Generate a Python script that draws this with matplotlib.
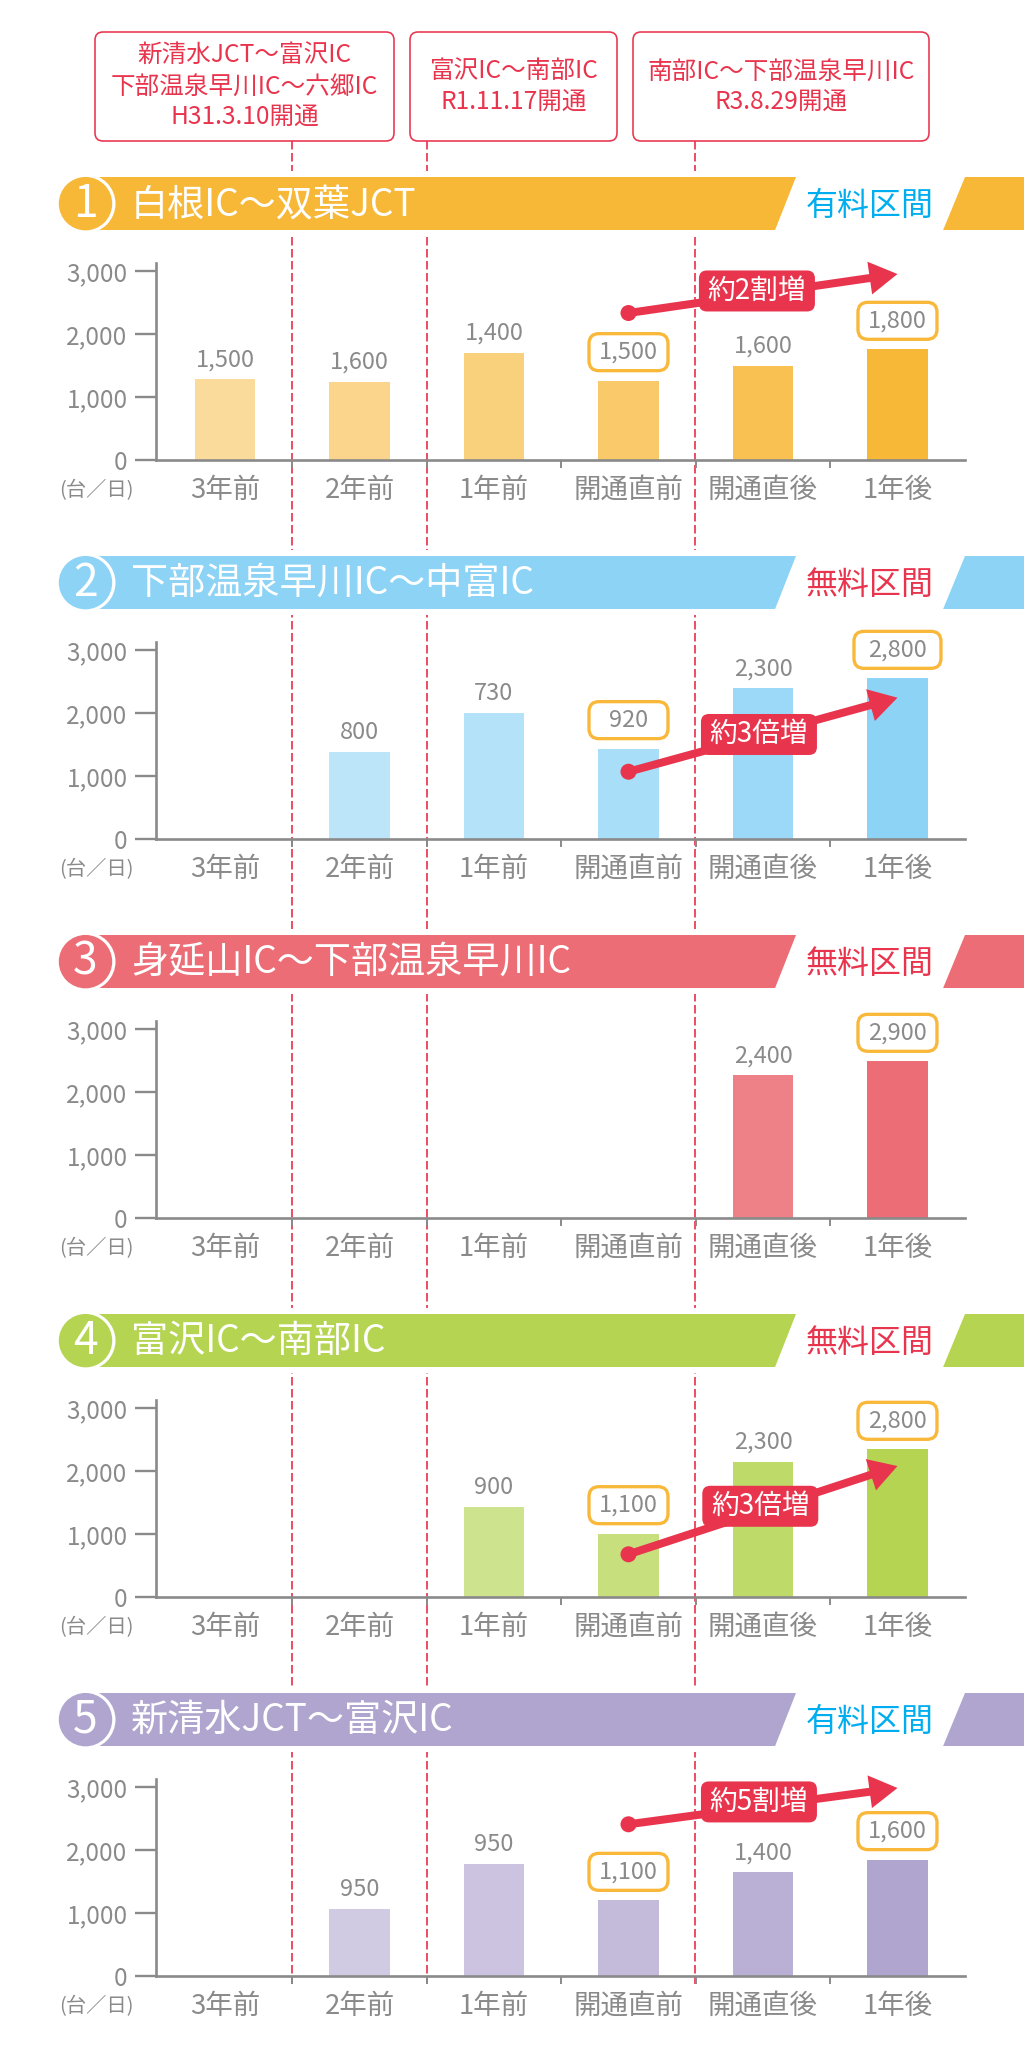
import matplotlib
matplotlib.use("Agg")
import matplotlib.pyplot as plt
from matplotlib.patches import FancyBboxPatch, Polygon, Circle, Rectangle, FancyArrow

plt.rcParams['font.family'] = ['Noto Sans CJK JP', 'DejaVu Sans']
plt.rcParams['lines.scale_dashes'] = False

# ---------- data ----------
categories = ['3年前', '2年前', '1年前', '開通直前', '開通直後', '1年後']
y_ticks = [0, 1000, 2000, 3000]
y_tick_labels = ['0', '1,000', '2,000', '3,000']

titles = ['白根IC〜双葉JCT', '下部温泉早川IC〜中富IC', '身延山IC〜下部温泉早川IC',
          '富沢IC〜南部IC', '新清水JCT〜富沢IC']
tags = ['有料区間', '無料区間', '無料区間', '無料区間', '有料区間']
colors = ['#F7B838', '#8DD3F6', '#EC6D75', '#B5D552', '#B0A5CF']
tag_colors = {'有料区間': '#00AEEF', '無料区間': '#E9344D'}
alphas = [0.5, 0.58, 0.66, 0.75, 0.87, 1.0]

# bar heights as drawn; printed labels differ from the drawn heights in the source
bars_1 = [1280, 1238, 1698, 1259, 1497, 1757]
bars_2 = [None, 1376, 1995, 1434, 2392, 2550]
bars_3 = [None, None, None, None, 2265, 2487]
bars_4 = [None, None, 1423, 1005, 2143, 2344]
bars_5 = [None, 1069, 1783, 1201, 1646, 1847]
labels_1 = ['1,500', '1,600', '1,400', '1,500', '1,600', '1,800']
labels_2 = [None, '800', '730', '920', '2,300', '2,800']
labels_3 = [None, None, None, None, '2,400', '2,900']
labels_4 = [None, None, '900', '1,100', '2,300', '2,800']
labels_5 = [None, '950', '950', '1,100', '1,400', '1,600']
all_bars = [bars_1, bars_2, bars_3, bars_4, bars_5]
all_labels = [labels_1, labels_2, labels_3, labels_4, labels_5]
boxed_categories = [3, 5]

# increase arrows: panel index -> (text, start value, end value, pill x, pill value)
arrows = {0: ('約2割増', 2333, 2952, 3.955, 2683),
          1: ('約3倍増', 1068, 2243, 3.97, 1659),
          3: ('約3倍増', 678, 2079, 3.98, 1440),
          4: ('約5割増', 2408, 2984, 3.97, 2763)}

open_boxes = [(['新清水JCT〜富沢IC', '下部温泉早川IC〜六郷IC', 'H31.3.10開通'], 95, 394),
              (['富沢IC〜南部IC', 'R1.11.17開通'], 410, 617),
              (['南部IC〜下部温泉早川IC', 'R3.8.29開通'], 633, 929)]
# ---------- layout ----------
W, H = 1024, 2069
GREY = '#8A8A8A'
RED = '#E9344D'
PX = 0.72
baselines = [460, 839, 1218, 1597, 1976]
header_tops = [177, 556, 935, 1314, 1693]
HEAD_H = 53.3
AX_H = 197
AX_L, AX_R = 156, 965
divider_x = [292, 426.5, 695]
DIV_BOTTOM = 1984

fig = plt.figure(figsize=(W / 100, H / 100), dpi=100, facecolor='white')


def overlay(z):
    a = fig.add_axes([0, 0, 1, 1], zorder=z)
    a.set_xlim(0, W)
    a.set_ylim(H, 0)
    a.axis('off')
    a.patch.set_alpha(0)
    return a


back = overlay(0)
front = overlay(5)

# dividers
for x in divider_x:
    back.plot([x, x], [141, DIV_BOTTOM], color=RED, lw=1.7 * PX,
              ls=(0, (8.5 * PX, 3.5 * PX)), zorder=1)

# opening boxes
for lines, x0, x1 in open_boxes:
    back.add_patch(FancyBboxPatch((x0 + 7, 32 + 7), x1 - x0 - 14, 109 - 14,
                                  boxstyle='round,pad=7,rounding_size=8', fc='white',
                                  ec=RED, lw=1.6 * PX, zorder=4))
    n = len(lines)
    yc = 86.8
    for k, s in enumerate(lines):
        back.text((x0 + x1) / 2, yc + (k - (n - 1) / 2) * 31, s, color=RED, fontsize=17.7,
                  ha='center', va='center', zorder=5)

# headers
for i, top in enumerate(header_tops):
    c = colors[i]
    bot = top + HEAD_H
    mid = top + HEAD_H / 2
    back.add_patch(Rectangle((0, top - 6), W, HEAD_H + 12, fc='white', ec='none', zorder=2))
    back.add_patch(Rectangle((98, top), W - 98, HEAD_H, fc=c, ec='none', zorder=3))
    back.add_patch(Polygon([(775, bot), (796, top), (965, top), (943, bot)], closed=True,
                           fc='white', ec='none', zorder=4))
    back.add_patch(Circle((86, mid), 29.5, fc='white', ec='none', zorder=4))
    back.add_patch(Rectangle((60, top - 4), 60, 4, fc='white', ec='none', zorder=4))
    back.add_patch(Circle((85.5, mid), 26.7, fc=c, ec='none', zorder=5))
    back.text(85.5, mid, str(i + 1), color='white', fontsize=32, ha='center', va='center', zorder=6)
    back.text(131, mid + 1, titles[i], color='white', fontsize=26.7, ha='left', va='center', zorder=6)
    back.text(870, mid + 2, tags[i], color=tag_colors[tags[i]], fontsize=23, ha='center', va='center', zorder=6)

# panels
for i, y0 in enumerate(baselines):
    ax = fig.add_axes([AX_L / W, 1 - y0 / H, (AX_R - AX_L) / W, AX_H / H], zorder=2)
    ax.patch.set_alpha(0)
    ax.set_xlim(-0.513, 5.502)
    ax.set_ylim(0, AX_H / 0.063)
    for s in ('top', 'right'):
        ax.spines[s].set_visible(False)
    for s in ('left', 'bottom'):
        ax.spines[s].set_color(GREY)
        ax.spines[s].set_linewidth(1.9)
    ax.set_yticks(y_ticks, y_tick_labels)
    ax.tick_params(axis='y', length=15, width=1.7, color=GREY, labelcolor=GREY, labelsize=17.5, pad=5.5)
    ax.set_xticks(range(6), categories)
    ax.tick_params(axis='x', which='major', length=0, labelcolor=GREY, labelsize=19.8, pad=12.2)
    ax.set_xticks([0.5, 1.5, 2.5, 3.5, 4.5], minor=True)
    ax.tick_params(axis='x', which='minor', length=5.5, width=1.4, color=GREY)
    for k, (v, lab) in enumerate(zip(all_bars[i], all_labels[i])):
        if v is None:
            continue
        ax.bar(k, v, width=0.45, color=colors[i], alpha=alphas[k], linewidth=0)
        px, py = ax.transData.transform((k, v))
        py = H - py
        if k in boxed_categories:
            w = 87 if (i == 1 and k == 5) else 79
            front.add_patch(FancyBboxPatch((px - w / 2 + 9, py - 28.5 - 18.5 + 9), w - 18, 37 - 18,
                                           boxstyle='round,pad=9,rounding_size=10', fc='white',
                                           ec='#F9B83A', lw=3.3 * PX, zorder=3))
            front.text(px, py - 28.5, lab, color=GREY, fontsize=17, ha='center', va='center', zorder=4)
        else:
            front.text(px, py - 19.5, lab, color=GREY, fontsize=17, ha='center', va='center', zorder=4)
    front.text(59, y0 + 31, '(台／日)', color=GREY, fontsize=14.6, ha='left', va='center')
    if i in arrows:
        text, v0, v1, pill_x, pill_v = arrows[i]
        x0, y_a = ax.transData.transform((3, v0))
        x1, y_b = ax.transData.transform((5, v1))
        y_a, y_b = H - y_a, H - y_b
        front.add_patch(FancyArrow(x0, y_a, x1 - x0, y_b - y_a, width=8, head_width=33, head_length=28,
                                   length_includes_head=True, fc=RED, ec='none', zorder=5))
        front.add_patch(Circle((x0, y_a), 8, fc=RED, ec='none', zorder=5))
        pcx, pcy = ax.transData.transform((pill_x, pill_v))
        pcy = H - pcy
        front.add_patch(FancyBboxPatch((pcx - 58 + 8, pcy - 20.5 + 8), 116 - 16, 41 - 16,
                                       boxstyle='round,pad=8,rounding_size=8', fc=RED, ec='none', zorder=6))
        front.text(pcx, pcy - 0.5, text, color='white', fontsize=20, ha='center', va='center', zorder=7)

fig.savefig('out.png', dpi=100, facecolor='white')
